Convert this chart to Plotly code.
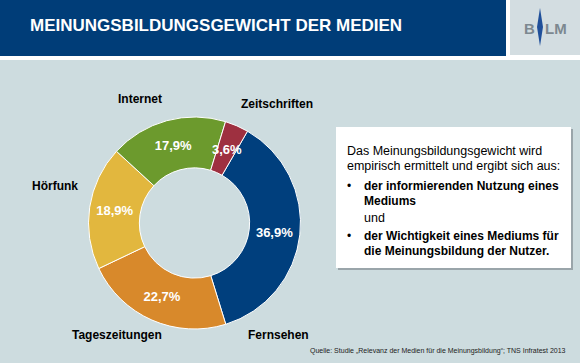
import math
import plotly.graph_objects as go

# ---- data ----
categories = ["Fernsehen", "Tageszeitungen", "Hörfunk", "Internet", "Zeitschriften"]
values = [36.9, 22.7, 18.9, 17.9, 3.6]
colors = ["#003f7d", "#d8892b", "#e2b73e", "#6c9a2d", "#9e3040"]

title_text = "MEINUNGSBILDUNGSGEWICHT DER MEDIEN"
box_intro = ["Das Meinungsbildungsgewicht wird", "empirisch ermittelt und ergibt sich aus:"]
bullet_1 = ["der informierenden Nutzung eines", "Mediums"]
connector = "und"
bullet_2 = ["der Wichtigkeit eines Mediums für", "die Meinungsbildung der Nutzer."]
source_text = "Quelle: Studie „Relevanz der Medien für die Meinungsbildung“; TNS Infratest 2013"

W, H = 580, 363
FONT = "Arial, Liberation Sans, sans-serif"

CX, CY, R, HOLE, ROT = 194.5, 223, 106, 0.52, 30


def px(x):
    return x / W


def py(y):
    return 1 - y / H


def fmt(v):
    return f"{v:.1f}%".replace(".", ",")


fig = go.Figure()

# the small last slice gets its label placed at mid-radius (like the original), others by plotly
text_pos = ["inside"] * (len(values) - 1) + ["none"]

fig.add_trace(go.Pie(
    labels=categories,
    values=values,
    hole=HOLE,
    sort=False,
    direction="clockwise",
    rotation=ROT,
    marker=dict(colors=colors, line=dict(color="white", width=1)),
    texttemplate="%{value:.1f}%",
    textposition=text_pos,
    insidetextorientation="horizontal",
    textfont=dict(family=FONT, size=13, color="white", weight="bold"),
    domain=dict(x=[px(CX - R), px(CX + R)], y=[py(CY + R), py(CY - R)]),
    showlegend=False,
    hoverinfo="label+percent",
))

shapes = []
# header band
shapes.append(dict(type="rect", xref="paper", yref="paper", x0=0, x1=1, y0=py(60), y1=1,
                   fillcolor="white", line_width=0, layer="below"))
shapes.append(dict(type="rect", xref="paper", yref="paper", x0=0, x1=px(506), y0=py(56), y1=1,
                   fillcolor="#003d78", line_width=0, layer="below"))
shapes.append(dict(type="rect", xref="paper", yref="paper", x0=px(510), x1=1, y0=py(55), y1=1,
                   fillcolor="#d3dde1", line_width=0, layer="below"))
# logo diamond
shapes.append(dict(type="path", xref="paper", yref="paper",
                   path=f"M {px(540)} {py(8)} L {px(543)} {py(27)} L {px(540)} {py(46)} L {px(537)} {py(27)} Z",
                   fillcolor="#1f4f9a", line_width=0))
# text box shadow and box
shapes.append(dict(type="rect", xref="paper", yref="paper", x0=px(338), x1=px(573), y0=py(270), y1=py(129),
                   fillcolor="#9aa5aa", line_width=0, layer="below"))
shapes.append(dict(type="rect", xref="paper", yref="paper", x0=px(336), x1=px(571), y0=py(268), y1=py(127),
                   fillcolor="white", line_width=0, layer="below"))

ann = []


def add_text(text, x, y, size, color="black", bold=False, xanchor="left"):
    ann.append(dict(text=text, x=px(x), y=py(y), xref="paper", yref="paper",
                    xanchor=xanchor, yanchor="middle", showarrow=False,
                    font=dict(family=FONT, size=size, color=color, weight="bold" if bold else "normal")))


add_text(title_text, 28, 25, 17, color="white", bold=True)
add_text("B", 529.5, 28, 15, color="#7c8890", bold=True, xanchor="center")
add_text("LM", 555.5, 28, 15, color="#7c8890", bold=True, xanchor="center")

# percentage label of the small slice, from its value
total = sum(values)
before = sum(values[:-1])
mid_deg = ROT + (before + values[-1] / 2) / total * 360
rm = R * (1 + HOLE) / 2
lx = CX + rm * math.sin(math.radians(mid_deg))
ly = CY - rm * math.cos(math.radians(mid_deg))
add_text(fmt(values[-1]), lx, ly, 13, color="white", bold=True, xanchor="center")

# outside category labels
label_pos = {
    "Fernsehen": (278, 335),
    "Tageszeitungen": (117, 335),
    "Hörfunk": (55, 186),
    "Internet": (140, 99),
    "Zeitschriften": (277, 104),
}
for c in categories:
    x, y = label_pos[c]
    add_text(c, x, y, 12, bold=True, xanchor="center")

# text box
add_text(box_intro[0], 345, 151, 12.5)
add_text(box_intro[1], 345, 166, 12.5)
add_text("•", 345, 186, 12)
add_text(bullet_1[0], 362, 186, 12, bold=True)
add_text(bullet_1[1], 362, 201, 12, bold=True)
add_text(connector, 362, 218, 12.5)
add_text("•", 345, 236, 12)
add_text(bullet_2[0], 362, 236, 12, bold=True)
add_text(bullet_2[1], 362, 251, 12, bold=True)

add_text(source_text, 568, 351, 7, color="#222222", xanchor="right")

fig.update_layout(
    width=W, height=H,
    margin=dict(l=0, r=0, t=0, b=0),
    paper_bgcolor="#cddcdf",
    plot_bgcolor="#cddcdf",
    separators=",.",
    shapes=shapes,
    annotations=ann,
    uniformtext=dict(minsize=13, mode="show"),
)

fig.write_html(
    "out.html",
    config={"displayModeBar": False},
    post_script="document.body.style.margin='0';document.body.style.overflow='hidden';",
)
